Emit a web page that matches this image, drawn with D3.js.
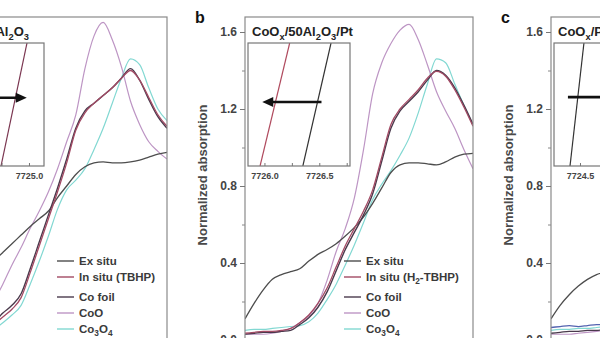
<!DOCTYPE html>
<html>
<head>
<meta charset="utf-8">
<script src="https://cdn.jsdelivr.net/npm/d3@7"></script>
<style>
  body { margin: 0; background: #fff; }
  svg { display: block; font-family: "Liberation Sans", Arial, sans-serif; }
</style>
</head>
<body>
<svg id="chart" width="600" height="338"></svg>
<script>
// energy grids (eV)
const energyA = [7721, 7722, 7723, 7724, 7725, 7726, 7727, 7728, 7729, 7730,
                 7731, 7732, 7733, 7734, 7735, 7736, 7737, 7738, 7739, 7740];
const energyB = [7715, 7716, 7717, 7718, 7719, 7720, 7721, 7722, 7723, 7724, 7725, 7726, 7727,
                 7728, 7729, 7730, 7731, 7732, 7733, 7734, 7735, 7736, 7737, 7738, 7739, 7740];
const energyC = [7715, 7716, 7717, 7718, 7719, 7720, 7721];

// panel a: CoOx/50Al2O3
const exSituA  = [0.41, 0.455, 0.50, 0.545, 0.59, 0.63, 0.67, 0.74, 0.80, 0.86, 0.90, 0.92, 0.925, 0.92, 0.92, 0.925, 0.935, 0.95, 0.965, 0.975];
const inSituA  = [0.08, 0.12, 0.16, 0.22, 0.35, 0.49, 0.63, 0.77, 0.92, 1.09, 1.18, 1.23, 1.27, 1.31, 1.36, 1.40, 1.35, 1.26, 1.17, 1.11];
const coFoilA  = [0.09, 0.14, 0.18, 0.24, 0.37, 0.51, 0.65, 0.79, 0.94, 1.10, 1.19, 1.23, 1.27, 1.31, 1.36, 1.41, 1.35, 1.25, 1.16, 1.10];
const cooA     = [0.20, 0.29, 0.39, 0.48, 0.58, 0.67, 0.77, 0.89, 1.03, 1.17, 1.41, 1.58, 1.65, 1.56, 1.42, 1.24, 1.12, 1.03, 0.98, 0.94];
const co3o4A   = [0.05, 0.09, 0.13, 0.18, 0.29, 0.41, 0.54, 0.68, 0.78, 0.83, 0.89, 0.99, 1.10, 1.23, 1.36, 1.46, 1.43, 1.31, 1.20, 1.14];

// panel b: CoOx/50Al2O3/Pt
const exSituB  = [0.11, 0.19, 0.26, 0.315, 0.34, 0.355, 0.37, 0.41, 0.445, 0.47, 0.50, 0.54, 0.585,
                  0.64, 0.71, 0.79, 0.87, 0.91, 0.92, 0.92, 0.915, 0.91, 0.925, 0.95, 0.965, 0.97];
const inSituB  = [0.035, 0.04, 0.045, 0.045, 0.05, 0.06, 0.09, 0.13, 0.19, 0.27, 0.38, 0.49, 0.58,
                  0.67, 0.78, 0.95, 1.12, 1.20, 1.25, 1.30, 1.36, 1.395, 1.37, 1.30, 1.21, 1.11];
const coFoilB  = [0.03, 0.035, 0.04, 0.04, 0.045, 0.05, 0.08, 0.115, 0.17, 0.25, 0.36, 0.47, 0.56,
                  0.65, 0.76, 0.93, 1.10, 1.19, 1.24, 1.29, 1.35, 1.40, 1.375, 1.31, 1.22, 1.12];
const cooB     = [0.03, 0.03, 0.03, 0.035, 0.045, 0.06, 0.09, 0.125, 0.19, 0.31, 0.46, 0.58, 0.74,
                  0.99, 1.28, 1.44, 1.54, 1.61, 1.64, 1.56, 1.43, 1.29, 1.19, 1.10, 0.99, 0.89];
const co3o4B   = [0.05, 0.055, 0.055, 0.06, 0.065, 0.07, 0.075, 0.095, 0.14, 0.21, 0.29, 0.39, 0.495,
                  0.61, 0.73, 0.81, 0.88, 0.96, 1.05, 1.18, 1.33, 1.46, 1.44, 1.33, 1.22, 1.12];

// panel c
const exSituC  = [0.11, 0.18, 0.235, 0.28, 0.315, 0.34, 0.355];
const inSituC  = [0.065, 0.07, 0.075, 0.07, 0.075, 0.08, 0.08];
const coFoilC  = [0.035, 0.04, 0.045, 0.045, 0.05, 0.05, 0.055];
const cooC     = [0.03, 0.03, 0.03, 0.035, 0.04, 0.045, 0.05];
const co3o4C   = [0.05, 0.055, 0.055, 0.06, 0.06, 0.065, 0.07];

// edge position insets: [energy at 0.5, energy at 0.7]
const insetExSituA = [7724.45, 7724.69];
const insetInSituA = [7724.745, 7724.982];
const insetExSituB = [7726.35, 7726.607];
const insetInSituB = [7725.96, 7726.23];
const insetExSituC = [7724.409, 7724.536];
const insetInSituC = [7724.85, 7724.98];
const insetLevels  = [0.5, 0.7];

const insetDomainA = [7724.207, 7725.137];
const insetDomainB = [7725.85, 7726.78];
const insetDomainC = [7724.263, 7725.193];
const insetTicks   = [7724.25, 7724.5, 7724.75, 7725.0, 7725.25, 7725.75, 7726.0, 7726.25, 7726.5, 7726.75];
const insetLabels  = [7724.5, 7725.0, 7726.0, 7726.5];

// arrows: [from, to, level]
const arrowA = [7724.45, 7724.98, 0.611];
const arrowB = [7726.52, 7725.98, 0.604];
const arrowC = [7724.39, 7724.9, 0.612];

const yTicksMajor = [0, 0.4, 0.8, 1.2, 1.6];
const yTicksMinor = [0.2, 0.6, 1.0, 1.4];

const legendA = ["Ex situ", "In situ (TBHP)", "Co foil", "CoO", "Co_3O_4"];
const legendB = ["Ex situ", "In situ (H_2-TBHP)", "Co foil", "CoO", "Co_3O_4"];

const colors = {
  exSitu: "#4d4d4d", inSitu: "#a24a64", coFoil: "#4a3a4c",
  coo: "#bd95c4", co3o4: "#82d8d2", inSituC: "#5463b0"
};

const svg = d3.select("#chart");
const frameTop = 17, frameBottom = 352, frameWidth = 228;
const y = d3.scaleLinear().domain([0, 1.6]).range([340, 32]);
const insetTop = 43, insetBottom = 166, insetWidth = 102;
const yInset = d3.scaleLinear().domain(insetLevels).range([insetBottom, insetTop]);

// "_x" in a string renders x as a subscript
function richText(text, str, size) {
  let low = false;
  str.split(/(_.)/).filter(s => s.length).forEach(s => {
    const isSub = s[0] === "_" && s.length === 2;
    const t = text.append("tspan").text(isSub ? s[1] : s);
    if (isSub) {
      t.attr("font-size", size * 0.72);
      if (!low) t.attr("dy", size * 0.3);
      low = true;
    } else if (low) {
      t.attr("dy", -size * 0.3);
      low = false;
    }
  });
}

function drawPanel(p) {
  const x = d3.scaleLinear().domain([7715, 7740]).range([p.left, p.left + frameWidth]);
  const g = svg.append("g");

  g.append("clipPath").attr("id", "clip-" + p.key)
    .append("rect")
    .attr("x", p.left).attr("y", frameTop)
    .attr("width", frameWidth).attr("height", frameBottom - frameTop);

  const curves = g.append("g").attr("clip-path", "url(#clip-" + p.key + ")");
  p.series.forEach(s => {
    const line = d3.line()
      .x((d, i) => x(p.energy[i]))
      .y(d => y(d))
      .curve(d3.curveMonotoneX);
    curves.append("path")
      .attr("d", line(s.values))
      .attr("fill", "none")
      .attr("stroke", s.color)
      .attr("stroke-width", s.width)
      .attr("stroke-linejoin", "round");
  });

  g.append("rect")
    .attr("x", p.left).attr("y", frameTop)
    .attr("width", frameWidth).attr("height", frameBottom - frameTop)
    .attr("fill", "none").attr("stroke", "#8a8a8a").attr("stroke-width", 1.2);

  // y axis
  const major = g.append("g").attr("transform", `translate(${p.left},0)`)
    .call(d3.axisLeft(y).tickValues(yTicksMajor).tickSize(5).tickPadding(3).tickFormat(d3.format(".1f")));
  major.select(".domain").remove();
  major.selectAll("line").attr("stroke", "#777");
  major.selectAll("text").attr("font-size", 12).attr("font-weight", "bold")
    .attr("fill", "#444").attr("font-family", null);
  const minor = g.append("g").attr("transform", `translate(${p.left},0)`)
    .call(d3.axisLeft(y).tickValues(yTicksMinor).tickSize(3).tickFormat(""));
  minor.select(".domain").remove();
  minor.selectAll("line").attr("stroke", "#888");

  g.append("text")
    .attr("transform", `translate(${p.left - 38},175) rotate(-90)`)
    .attr("text-anchor", "middle")
    .attr("font-size", 13).attr("font-weight", "bold").attr("fill", "#4a4a4a")
    .text("Normalized absorption");

  g.append("text")
    .attr("x", p.left - 50).attr("y", 23)
    .attr("font-size", 16).attr("font-weight", "bold").attr("fill", "#111")
    .text(p.label);

  // title above the inset
  const title = g.append("text")
    .attr("x", p.titleX).attr("y", 36)
    .attr("text-anchor", p.titleAnchor)
    .attr("font-size", 13).attr("font-weight", "bold").attr("fill", "#222");
  richText(title, p.title, 13);

  // inset: shift of the edge position
  const il = p.left + 3;
  const xi = d3.scaleLinear().domain(p.inset.domain).range([il, il + insetWidth]);
  g.append("clipPath").attr("id", "iclip-" + p.key)
    .append("rect")
    .attr("x", il).attr("y", insetTop)
    .attr("width", insetWidth).attr("height", insetBottom - insetTop);
  g.append("rect")
    .attr("x", il).attr("y", insetTop)
    .attr("width", insetWidth).attr("height", insetBottom - insetTop)
    .attr("fill", "#fff");
  const ig = g.append("g").attr("clip-path", "url(#iclip-" + p.key + ")");
  p.inset.lines.forEach(l => {
    ig.append("path")
      .attr("d", d3.line().x((d, i) => xi(d)).y((d, i) => yInset(insetLevels[i]))(l.values))
      .attr("fill", "none").attr("stroke", l.color).attr("stroke-width", 1.2);
  });
  const [from, to, level] = p.inset.arrow;
  const dir = Math.sign(to - from);
  const ay = yInset(level);
  ig.append("line")
    .attr("x1", xi(from)).attr("x2", xi(to) - dir * 8)
    .attr("y1", ay).attr("y2", ay)
    .attr("stroke", "#111").attr("stroke-width", 2.6);
  ig.append("path")
    .attr("d", `M${xi(to)},${ay} L${xi(to) - dir * 11},${ay - 5} L${xi(to) - dir * 11},${ay + 5} Z`)
    .attr("fill", "#111");
  g.append("rect")
    .attr("x", il).attr("y", insetTop)
    .attr("width", insetWidth).attr("height", insetBottom - insetTop)
    .attr("fill", "none").attr("stroke", "#777").attr("stroke-width", 1.2);

  const ticks = insetTicks.filter(t => t >= p.inset.domain[0] && t <= p.inset.domain[1]);
  const iaxis = g.append("g").attr("transform", `translate(0,${insetBottom})`)
    .call(d3.axisBottom(xi).tickValues(ticks).tickSizeInner(-3).tickSizeOuter(0).tickPadding(7)
      .tickFormat(d => insetLabels.includes(d) ? d3.format(".1f")(d) : ""));
  iaxis.select(".domain").remove();
  iaxis.selectAll("line").attr("stroke", "#777");
  iaxis.selectAll("text").attr("font-size", 9).attr("font-weight", "bold")
    .attr("fill", "#444").attr("font-family", null);

  // legend
  if (p.legend) {
    const rows = [261, 277, 297, 313, 329];
    p.legend.labels.forEach((name, i) => {
      const s = p.series.find(d => d.name === p.legend.keys[i]);
      g.append("line")
        .attr("x1", p.left + p.legend.offset).attr("x2", p.left + p.legend.offset + 17)
        .attr("y1", rows[i]).attr("y2", rows[i])
        .attr("stroke", s.color).attr("stroke-width", 1.4);
      const t = g.append("text")
        .attr("x", p.left + p.legend.offset + 22).attr("y", rows[i] + 4)
        .attr("font-size", 11.5).attr("font-weight", "bold").attr("fill", "#3a3a3a");
      richText(t, name, 11.5);
    });
  }
}

const legendKeys = ["exSitu", "inSitu", "coFoil", "coo", "co3o4"];

drawPanel({
  key: "a", left: -61, label: "a", energy: energyA,
  title: "CoO_x/50Al_2O_3", titleX: 29, titleAnchor: "end",
  series: [
    { name: "co3o4", values: co3o4A, color: colors.co3o4, width: 1.2 },
    { name: "coo", values: cooA, color: colors.coo, width: 1.2 },
    { name: "exSitu", values: exSituA, color: colors.exSitu, width: 1.3 },
    { name: "coFoil", values: coFoilA, color: colors.coFoil, width: 1.4 },
    { name: "inSitu", values: inSituA, color: colors.inSitu, width: 1.3 }
  ],
  inset: {
    domain: insetDomainA, arrow: arrowA,
    lines: [
      { values: insetExSituA, color: colors.exSitu },
      { values: insetInSituA, color: "#7a3550" }
    ]
  },
  legend: { labels: legendA, keys: legendKeys, offset: 118 }
});

drawPanel({
  key: "b", left: 245, label: "b", energy: energyB,
  title: "CoO_x/50Al_2O_3/Pt", titleX: 252, titleAnchor: "start",
  series: [
    { name: "co3o4", values: co3o4B, color: colors.co3o4, width: 1.2 },
    { name: "coo", values: cooB, color: colors.coo, width: 1.2 },
    { name: "exSitu", values: exSituB, color: colors.exSitu, width: 1.3 },
    { name: "coFoil", values: coFoilB, color: colors.coFoil, width: 1.4 },
    { name: "inSitu", values: inSituB, color: colors.inSitu, width: 1.3 }
  ],
  inset: {
    domain: insetDomainB, arrow: arrowB,
    lines: [
      { values: insetExSituB, color: "#333" },
      { values: insetInSituB, color: "#b04a5e" }
    ]
  },
  legend: { labels: legendB, keys: legendKeys, offset: 99 }
});

drawPanel({
  key: "c", left: 551, label: "c", energy: energyC,
  title: "CoO_x/Pt", titleX: 558, titleAnchor: "start",
  series: [
    { name: "co3o4", values: co3o4C, color: colors.co3o4, width: 1.2 },
    { name: "coo", values: cooC, color: colors.coo, width: 1.2 },
    { name: "coFoil", values: coFoilC, color: colors.coFoil, width: 1.3 },
    { name: "inSitu", values: inSituC, color: colors.inSituC, width: 1.3 },
    { name: "exSitu", values: exSituC, color: colors.exSitu, width: 1.3 }
  ],
  inset: {
    domain: insetDomainC, arrow: arrowC,
    lines: [
      { values: insetExSituC, color: "#333" },
      { values: insetInSituC, color: colors.inSituC }
    ]
  },
  legend: null
});
</script>
</body>
</html>
